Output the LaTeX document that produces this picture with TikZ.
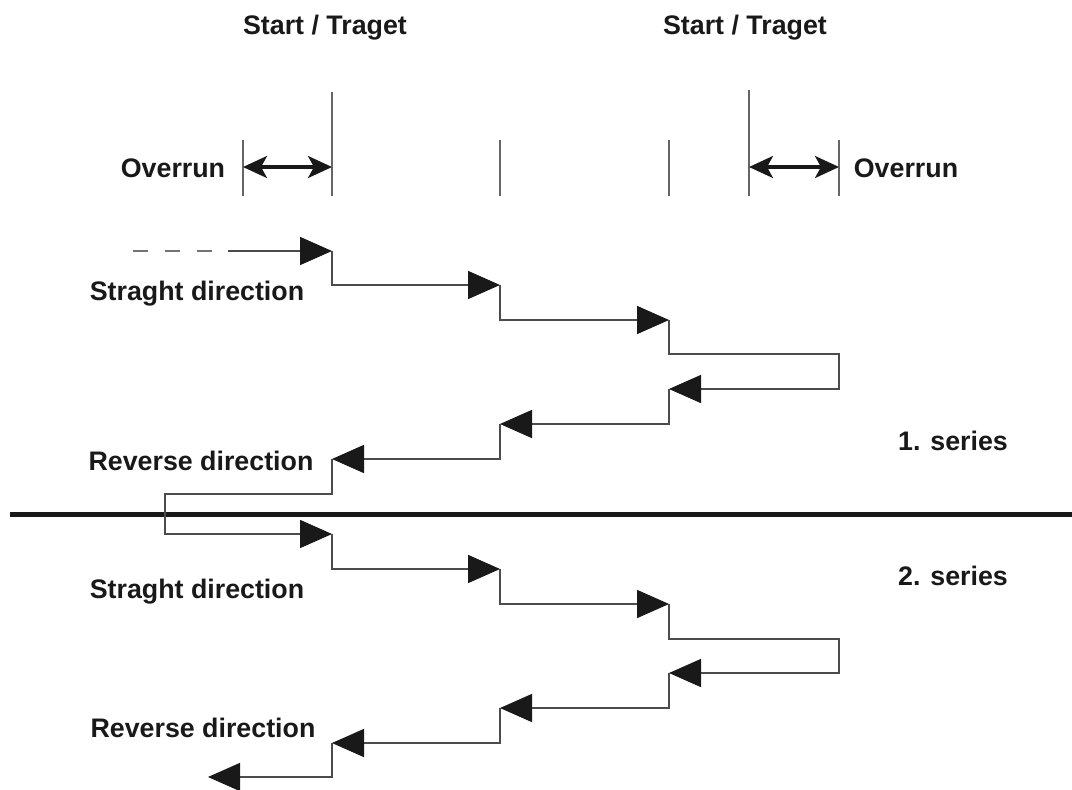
\documentclass[tikz,border=0pt]{standalone}
\usepackage{fontspec}
\setmainfont{Liberation Sans}
\usetikzlibrary{arrows.meta,positioning,calc}

\tikzset{
	labelText/.style={
		font=\fontsize{13.4}{16}\selectfont\bfseries,
		text=black!90,
		inner sep=0pt,
		anchor=base
	},
	markLine/.style={
		draw=black!60,
		line width=0.8pt
	},
	stepArrow/.style={
		draw=black!70,
		line width=0.8pt,
		-{Triangle[length=16pt,width=14pt,color=black!90]}
	},
	overrunArrow/.style={
		draw=black!90,
		line width=1.6pt,
		{Stealth[length=12pt,width=11pt,inset=3pt]}-{Stealth[length=12pt,width=11pt,inset=3pt]}
	}
}

\begin{document}
\begin{tikzpicture}[x=0.5pt,y=-0.5pt]
\useasboundingbox (0,0) rectangle (1072,789);

%--------------------------- start / target marks ------------
\node[labelText] (START1) at (325,34) {Start / Traget};
\node[labelText] (START2) at (745,34) {Start / Traget};

\draw[markLine] (243,140) -- (243,196);
\draw[markLine] (332,92) -- (332,196);
\draw[markLine] (500,140) -- (500,196);
\draw[markLine] (669,140) -- (669,196);
\draw[markLine] (749,90) -- (749,196);
\draw[markLine] (839,140) -- (839,196);

\coordinate (OV1a) at (243,167);
\coordinate (OV1b) at (332,167);
\coordinate (OV2a) at (749,167);
\coordinate (OV2b) at (839,167);
\draw[overrunArrow] (OV1a) -- (OV1b);
\draw[overrunArrow] (OV2a) -- (OV2b);

\node[labelText] (OVER1) at (173,177) {Overrun};
\node[labelText] (OVER2) at (906,177) {Overrun};

%--------------------------- 1. series ------------
\coordinate (AS) at (133,251);
\coordinate (AD) at (228,251);
\coordinate (A0) at (332,251);
\coordinate (A1) at (500,285);
\coordinate (A2) at (669,320);
\coordinate (AR) at (839,354);
\coordinate (A3) at (669,389);
\coordinate (A4) at (500,424);
\coordinate (A5) at (332,459);
\coordinate (AL) at (165,494);

\draw[draw=black!55, line width=0.8pt, dash pattern=on 7.5pt off 8.5pt] (AS) -- (AD);
\draw[stepArrow] (AD) -- (A0);
\draw[stepArrow] (A0) |- (A1);
\draw[stepArrow] (A1) |- (A2);
\draw[stepArrow] (A2) |- (AR) |- (A3);
\draw[stepArrow] (A3) |- (A4);
\draw[stepArrow] (A4) |- (A5);

\node[labelText] (STRAIGHT1) at (197,300) {Straght direction};
\node[labelText] (REVERSE1) at (201,470) {Reverse direction};
\node[labelText] (SERIES1) at (953,450) {1. series};

% separator
\draw[line width=2.5pt, black!90] (10,514) -- (1072,514);

%--------------------------- 2. series ------------
\coordinate (B0) at (332,534);
\coordinate (B1) at (500,569);
\coordinate (B2) at (669,604);
\coordinate (BR) at (839,639);
\coordinate (B3) at (669,673);
\coordinate (B4) at (500,708);
\coordinate (B5) at (332,743);
\coordinate (BE) at (208,777);

\draw[stepArrow] (A5) |- (AL) |- (B0);
\draw[stepArrow] (B0) |- (B1);
\draw[stepArrow] (B1) |- (B2);
\draw[stepArrow] (B2) |- (BR) |- (B3);
\draw[stepArrow] (B3) |- (B4);
\draw[stepArrow] (B4) |- (B5);
\draw[stepArrow] (B5) |- (BE);

\node[labelText] (STRAIGHT2) at (197,598) {Straght direction};
\node[labelText] (REVERSE2) at (203,737) {Reverse direction};
\node[labelText] (SERIES2) at (953,585) {2. series};

\end{tikzpicture}
\end{document}
